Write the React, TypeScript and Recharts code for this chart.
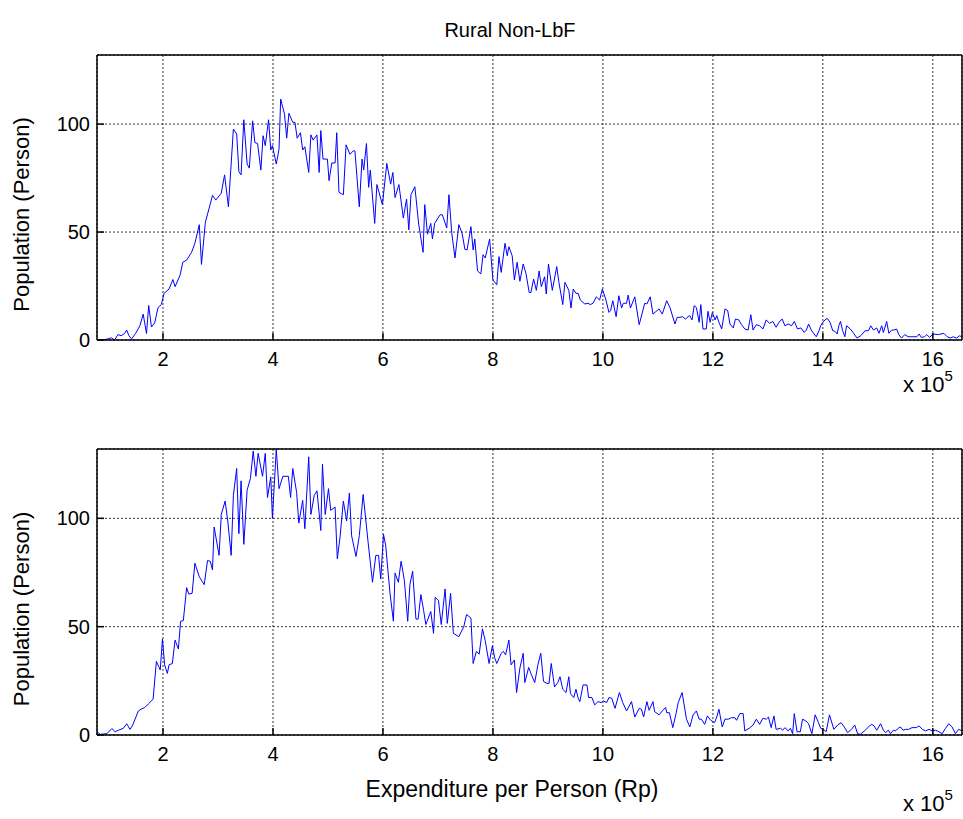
import React from "react";
import { LineChart, Line, XAxis, YAxis, CartesianGrid } from "recharts";

// Household expenditure distribution, two panels sharing the same axes
const FONT = '"Liberation Sans", Arial, Helvetica, sans-serif';
const TICK_SIZE = 20;
const LABEL_SIZE = 22;

const X_DOMAIN: [number, number] = [0.8, 16.53];
const Y_DOMAIN: [number, number] = [0, 132];
const xTicks = [2, 4, 6, 8, 10, 12, 14, 16];
const yTicks = [0, 50, 100];

const title = "Rural Non-LbF";
const yTitle = "Population (Person)";
const xTitle = "Expenditure per Person (Rp)";

// upper panel: expenditure (x 10^5 Rp) vs. persons
const topX = [
  0.8, 0.9, 1.0, 1.06, 1.12, 1.18, 1.24, 1.3, 1.34, 1.38,
  1.43, 1.5, 1.58, 1.64, 1.7, 1.74, 1.79, 1.85, 1.91, 1.97,
  2.02, 2.11, 2.18, 2.22, 2.31, 2.36, 2.43, 2.52, 2.58, 2.66,
  2.7, 2.77, 2.86, 2.9, 2.96, 3.06, 3.12, 3.19, 3.28, 3.34,
  3.38, 3.42, 3.47, 3.53, 3.57, 3.63, 3.67, 3.72, 3.78, 3.82,
  3.86, 3.92, 3.96, 3.99, 4.06, 4.11, 4.14, 4.21, 4.25, 4.29,
  4.36, 4.4, 4.44, 4.5, 4.54, 4.58, 4.65, 4.69, 4.73, 4.8,
  4.84, 4.87, 4.91, 4.99, 5.02, 5.07, 5.13, 5.16, 5.2, 5.28,
  5.33, 5.4, 5.46, 5.49, 5.57, 5.62, 5.65, 5.7, 5.74, 5.77,
  5.85, 5.89, 5.99, 6.07, 6.14, 6.18, 6.22, 6.29, 6.37, 6.43,
  6.47, 6.51, 6.58, 6.65, 6.73, 6.76, 6.81, 6.87, 6.9, 6.94,
  7.04, 7.08, 7.16, 7.2, 7.25, 7.31, 7.38, 7.44, 7.49, 7.53,
  7.6, 7.64, 7.67, 7.72, 7.78, 7.82, 7.86, 7.94, 8.0, 8.07,
  8.11, 8.15, 8.22, 8.26, 8.29, 8.35, 8.39, 8.44, 8.49, 8.55,
  8.6, 8.66, 8.69, 8.74, 8.79, 8.84, 8.88, 8.94, 8.97, 9.01,
  9.08, 9.16, 9.2, 9.27, 9.31, 9.38, 9.42, 9.46, 9.51, 9.55,
  9.59, 9.67, 9.73, 9.77, 9.82, 9.88, 9.94, 9.99, 10.05, 10.11,
  10.14, 10.18, 10.24, 10.29, 10.34, 10.37, 10.43, 10.46, 10.5, 10.58,
  10.66, 10.76, 10.8, 10.86, 10.91, 11.02, 11.08, 11.16, 11.22, 11.31,
  11.35, 11.4, 11.45, 11.5, 11.55, 11.58, 11.62, 11.66, 11.7, 11.75,
  11.78, 11.82, 11.88, 11.91, 11.95, 11.99, 12.04, 12.07, 12.11, 12.16,
  12.22, 12.27, 12.31, 12.37, 12.41, 12.47, 12.52, 12.58, 12.64, 12.69,
  12.73, 12.79, 12.85, 12.91, 12.97, 13.03, 13.09, 13.15, 13.2, 13.26,
  13.31, 13.37, 13.43, 13.48, 13.54, 13.6, 13.66, 13.7, 13.74, 13.79,
  13.84, 13.88, 13.93, 13.96, 14.0, 14.04, 14.08, 14.13, 14.18, 14.22,
  14.26, 14.29, 14.32, 14.36, 14.4, 14.43, 14.5, 14.56, 14.62, 14.69,
  14.77, 14.83, 14.87, 14.92, 14.98, 15.02, 15.07, 15.1, 15.16, 15.2,
  15.25, 15.29, 15.34, 15.38, 15.43, 15.49, 15.55, 15.64, 15.71, 15.75,
  15.79, 15.85, 15.89, 15.94, 16.0, 16.1, 16.2, 16.26, 16.32, 16.37,
  16.43, 16.49, 16.53,
];
const topPop = [
  0, 0, 0.5, 1, 0, 2.5, 2, 3, 4.6, 2,
  0.5, 3, 6.6, 12, 3, 16, 6, 8, 15, 16.4,
  21.6, 23.6, 28, 24.7, 30, 36, 37, 40.6, 44.8, 53.4,
  35, 54.5, 63, 67, 64.8, 68, 76.5, 61.7, 97.7, 95.4,
  78, 76.5, 102, 81.5, 79.6, 101.5, 91.5, 91, 78.7, 94.6,
  90, 102, 88, 90, 81.5, 88.4, 111.6, 104.6, 93.5, 105,
  100.8, 100.8, 93.5, 96, 88, 89.5, 77.6, 95, 92.6, 95,
  77.6, 97, 83.8, 83.8, 73.8, 82, 82, 96, 68.4, 67.3,
  90.4, 86, 87.6, 87.6, 61.7, 83.8, 78.7, 91, 70.7, 78.7,
  54, 72, 62.7, 81.8, 72.2, 77.6, 66, 72, 56.5, 65.3,
  51, 67.3, 71, 53.7, 40.6, 62.7, 49, 54, 46.8, 54,
  58, 58, 51.9, 67.3, 49.8, 38, 53.4, 49.4, 42, 41.7,
  52.5, 41.7, 46.8, 32, 30.6, 39.5, 38, 46.8, 27.8, 25.6,
  38.6, 31.3, 44.8, 39, 43.2, 39, 27.8, 36, 27.2, 35.2,
  30.9, 22, 22, 28.2, 23, 32, 24.7, 29.3, 21.3, 35.2,
  23, 34, 26.7, 16.4, 26.7, 23, 14.8, 23.6, 21.6, 21.6,
  18.5, 16.7, 17, 16.4, 17, 20, 18.5, 23.6, 19, 12.8,
  13.6, 18.2, 10.8, 20.5, 14.8, 17, 17, 20.8, 14.8, 20,
  7.1, 17, 16.7, 20, 12, 14.4, 12, 18.2, 15, 7.4,
  10.5, 10.5, 10.8, 9.7, 10.8, 11.3, 9.3, 15.9, 15, 8.2,
  16.4, 5.1, 5.1, 13.3, 8.2, 12.8, 9.3, 11.3, 8.2, 5.1,
  14.4, 13.6, 7.4, 5.6, 9.7, 9.3, 7.1, 5.1, 4.6, 11.7,
  4.6, 7.1, 6.6, 5.1, 9.3, 7.7, 8.6, 5.9, 8.2, 9.7,
  6.6, 7.4, 6.6, 8.6, 5.1, 5.6, 3.5, 4.6, 7.4, 4.6,
  2.8, 1.5, 4.3, 6.6, 8.2, 9.3, 10, 8.2, 4.3, 4,
  2.8, 6.6, 8.6, 4.3, 1.5, 6.6, 5.1, 3.1, 0.9, 2,
  4.3, 4.3, 6.6, 4.6, 5.6, 3.1, 6.6, 3.5, 8.6, 3.1,
  4.6, 4.6, 5.1, 2.5, 0.9, 2.5, 1.5, 1.5, 1.5, 2.8,
  1.2, 1.5, 2.5, 1.2, 2.8, 2.5, 3.1, 1.5, 0.9, 1.5,
  0.9, 2, 1.2,
];

// lower panel
const bottomX = [
  0.8, 0.86, 0.92, 0.98, 1.07, 1.13, 1.19, 1.28, 1.34, 1.4,
  1.45, 1.55, 1.6, 1.67, 1.74, 1.82, 1.88, 1.95, 1.99, 2.03,
  2.08, 2.11, 2.17, 2.22, 2.28, 2.32, 2.37, 2.43, 2.47, 2.53,
  2.58, 2.66, 2.75, 2.81, 2.86, 2.9, 2.93, 3.02, 3.06, 3.13,
  3.18, 3.24, 3.28, 3.34, 3.38, 3.42, 3.47, 3.53, 3.59, 3.64,
  3.69, 3.73, 3.81, 3.86, 3.9, 3.96, 3.99, 4.06, 4.11, 4.18,
  4.28, 4.32, 4.36, 4.43, 4.47, 4.54, 4.58, 4.65, 4.69, 4.75,
  4.8, 4.87, 4.9, 4.95, 5.01, 5.05, 5.13, 5.17, 5.22, 5.28,
  5.34, 5.39, 5.43, 5.51, 5.57, 5.64, 5.73, 5.81, 5.87, 5.92,
  5.96, 6.01, 6.05, 6.09, 6.13, 6.19, 6.22, 6.28, 6.33, 6.39,
  6.45, 6.49, 6.54, 6.6, 6.64, 6.69, 6.74, 6.78, 6.81, 6.87,
  6.92, 6.95, 7.01, 7.06, 7.13, 7.17, 7.23, 7.28, 7.38, 7.47,
  7.52, 7.6, 7.64, 7.7, 7.75, 7.81, 7.86, 7.93, 7.99, 8.03,
  8.07, 8.15, 8.19, 8.23, 8.29, 8.33, 8.39, 8.43, 8.49, 8.55,
  8.58, 8.65, 8.7, 8.76, 8.82, 8.87, 8.92, 8.98, 9.02, 9.06,
  9.12, 9.18, 9.22, 9.27, 9.33, 9.38, 9.41, 9.47, 9.51, 9.55,
  9.58, 9.64, 9.71, 9.74, 9.8, 9.85, 9.91, 9.97, 10.01, 10.07,
  10.11, 10.16, 10.22, 10.3, 10.36, 10.43, 10.52, 10.58, 10.66, 10.7,
  10.74, 10.8, 10.84, 10.91, 10.94, 11.02, 11.09, 11.14, 11.16, 11.21,
  11.27, 11.33, 11.37, 11.44, 11.52, 11.58, 11.64, 11.7, 11.75, 11.79,
  11.85, 11.9, 11.96, 12.03, 12.07, 12.11, 12.17, 12.22, 12.28, 12.34,
  12.4, 12.43, 12.49, 12.55, 12.58, 12.66, 12.73, 12.79, 12.85, 12.91,
  12.97, 13.01, 13.06, 13.11, 13.15, 13.23, 13.27, 13.31, 13.37, 13.41,
  13.45, 13.48, 13.53, 13.59, 13.63, 13.69, 13.74, 13.8, 13.86, 13.92,
  13.96, 14.01, 14.06, 14.12, 14.2, 14.27, 14.33, 14.39, 14.45, 14.52,
  14.58, 14.63, 14.68, 14.77, 14.85, 14.89, 14.93, 14.98, 15.05, 15.1,
  15.14, 15.19, 15.23, 15.28, 15.32, 15.37, 15.41, 15.46, 15.5, 15.56,
  15.62, 15.7, 15.75, 15.81, 15.87, 15.93, 15.99, 16.05, 16.11, 16.17,
  16.23, 16.29, 16.35, 16.41, 16.47, 16.53,
];
const bottomPop = [
  1.5, 0.3, 0.5, 0.6, 3, 1.5, 2.2, 3.1, 5.2, 2.6,
  4.6, 11, 11.9, 12.7, 14.5, 16.5, 34, 30, 44.3, 32.4,
  28.4, 32.4, 33, 43.8, 39.7, 52.5, 52.8, 68, 65, 65.4,
  79.3, 73, 69.4, 80.5, 80.2, 76.2, 96, 82.9, 101.8, 108,
  98.3, 82.9, 110.6, 123, 92.9, 117.3, 88, 113, 118.4, 131,
  119.4, 130, 119.4, 130, 109.6, 119.1, 100, 132, 113.7, 119.4,
  119.4, 109.6, 123, 112, 97.8, 108.3, 95.2, 128.4, 101.8, 110.6,
  112.7, 94.4, 125, 101.8, 113.7, 103.7, 105.2, 81.3, 91.4, 108,
  98.8, 111.7, 92, 82.4, 92, 111, 89, 70.5, 82.9, 82.9,
  72, 92.6, 87.5, 76, 65, 52.5, 74.7, 70.5, 80.2, 71.3,
  52.5, 69.4, 75.6, 53.5, 53.5, 64.8, 57.4, 51, 53, 57,
  46.9, 63.6, 62, 51, 67.4, 51.5, 65.4, 46.9, 45.4, 50,
  55.6, 54, 33, 38.6, 37.3, 49, 43.5, 33, 41.2, 35.8,
  33, 37.7, 38.6, 37, 43.8, 32.4, 34.6, 19.6, 30.9, 37.7,
  24.2, 31.2, 27.8, 24.2, 32.7, 37.7, 24.7, 23.8, 23.8, 33,
  22.2, 24.2, 26.9, 21.1, 19.6, 26.9, 19.1, 17.3, 21.1, 17,
  15.4, 23.1, 23.1, 17.3, 17.3, 13.9, 15.4, 15, 15.7, 15,
  17.3, 17, 12.3, 19.6, 15, 11.1, 15.4, 8.3, 12.3, 11.9,
  8.3, 15.4, 11.4, 15.4, 10.8, 9.3, 11.4, 12.7, 10.3, 10.3,
  3.4, 9.9, 15, 19.6, 7.3, 3.7, 9.3, 11.1, 7.3, 7.3,
  4.9, 8.8, 6.8, 5.7, 8.3, 11.9, 3.7, 7.3, 7.3, 8,
  8, 6.8, 9.9, 9.9, 1.9, 3.1, 4.6, 7.3, 4.9, 7.7,
  7.3, 8.3, 3.4, 8.8, 2.6, 3.1, 2.2, 3.4, 1.9, 3.1,
  0.6, 9.9, 1.5, 1.5, 7.3, 6.5, 5.2, 0.6, 9.3, 5.7,
  3.1, 2.6, 1.5, 9.3, 2.6, 4.6, 5.7, 3.7, 1.1, 2.6,
  4.6, 0.6, 0.3, 2.2, 4.2, 4.9, 4.2, 2.2, 5.2, 2.2,
  1.1, 2.2, 0.6, 2.2, 1.9, 3.1, 3.7, 2.2, 2.6, 2.6,
  3.4, 3.4, 4.2, 2.6, 1.9, 2.6, 1.9, 2.2, 1.5, 0.6,
  3.1, 5.2, 3.7, 0.6, 2.6, 1.9,
];

const topData = topX.map((x, i) => ({ x, pop: topPop[i] }));
const bottomData = bottomX.map((x, i) => ({ x, pop: bottomPop[i] }));

const tickStyle = { fill: "#000", fontSize: TICK_SIZE, fontFamily: FONT };
const frame = { stroke: "#000", strokeWidth: 1.5 };

// "x 10^5" multiplier at the right end of the x axis, optional axis title under the ticks
function xAxisLabel(showTitle: boolean) {
  return (props: any) => {
    const vb = props.viewBox || { x: 97, y: 340, width: 865, height: 60 };
    const right = vb.x + vb.width;
    return (
      <g fontFamily={FONT} fill="#000">
        {showTitle && (
          <text x={512} y={vb.y + 62} textAnchor="middle" fontSize={23}>
            {xTitle}
          </text>
        )}
        <text x={right - 59} y={vb.y + (showTitle ? 76 : 52)} fontSize={LABEL_SIZE}>
          x 10
          <tspan dy={-11} fontSize={15}>
            5
          </tspan>
        </text>
      </g>
    );
  };
}

function yAxisLabel(props: any) {
  const vb = props.viewBox || { x: 0, y: 55, width: 97, height: 285 };
  const cx = 21;
  const cy = vb.y + vb.height / 2 + 17;
  return (
    <text
      x={cx}
      y={cy}
      transform={`rotate(-90, ${cx}, ${cy})`}
      textAnchor="middle"
      dominantBaseline="central"
      fontFamily={FONT}
      fontSize={LABEL_SIZE}
      fill="#000"
    >
      {yTitle}
    </text>
  );
}

function Panel({ data, height, top, axisHeight, showTitle }: any) {
  return (
    <LineChart width={963} height={height} data={data} margin={{ top, right: 0, bottom: 0, left: 0 }}>
      <CartesianGrid stroke="#333" strokeDasharray="2 2" />
      <XAxis
        dataKey="x"
        type="number"
        domain={X_DOMAIN}
        allowDataOverflow
        ticks={xTicks}
        interval={0}
        height={axisHeight}
        tickSize={-7}
        tickMargin={19}
        tick={tickStyle}
        tickLine={frame}
        axisLine={frame}
        label={xAxisLabel(showTitle)}
      />
      <XAxis
        xAxisId="top"
        orientation="top"
        dataKey="x"
        type="number"
        domain={X_DOMAIN}
        allowDataOverflow
        ticks={xTicks}
        interval={0}
        height={1}
        tickSize={-7}
        tick={false}
        tickLine={frame}
        axisLine={frame}
      />
      <YAxis
        type="number"
        domain={Y_DOMAIN}
        allowDataOverflow
        ticks={yTicks}
        interval={0}
        width={97}
        tickSize={-7}
        tickMargin={14}
        tick={tickStyle}
        tickLine={frame}
        axisLine={frame}
        label={yAxisLabel}
      />
      <YAxis
        yAxisId="right"
        orientation="right"
        type="number"
        domain={Y_DOMAIN}
        allowDataOverflow
        ticks={yTicks}
        interval={0}
        width={1}
        tickSize={-7}
        tick={false}
        tickLine={frame}
        axisLine={frame}
      />
      <Line
        type="linear"
        dataKey="pop"
        stroke="#0000ff"
        strokeWidth={1}
        dot={false}
        isAnimationActive={false}
      />
    </LineChart>
  );
}

export default function App() {
  return (
    <div style={{ position: "absolute", left: 0, top: 0, width: 963, height: 819, background: "#fff" }}>
      <div
        style={{
          position: "absolute",
          left: 310,
          top: 18,
          width: 400,
          textAlign: "center",
          fontFamily: FONT,
          fontSize: 20,
          lineHeight: "24px",
          color: "#000",
        }}
      >
        {title}
      </div>
      <div style={{ position: "absolute", left: 0, top: 0 }}>
        <Panel data={topData} height={400} top={54} axisHeight={60} showTitle={false} />
      </div>
      <div style={{ position: "absolute", left: 0, top: 400 }}>
        <Panel data={bottomData} height={419} top={48} axisHeight={84} showTitle={true} />
      </div>
    </div>
  );
}
